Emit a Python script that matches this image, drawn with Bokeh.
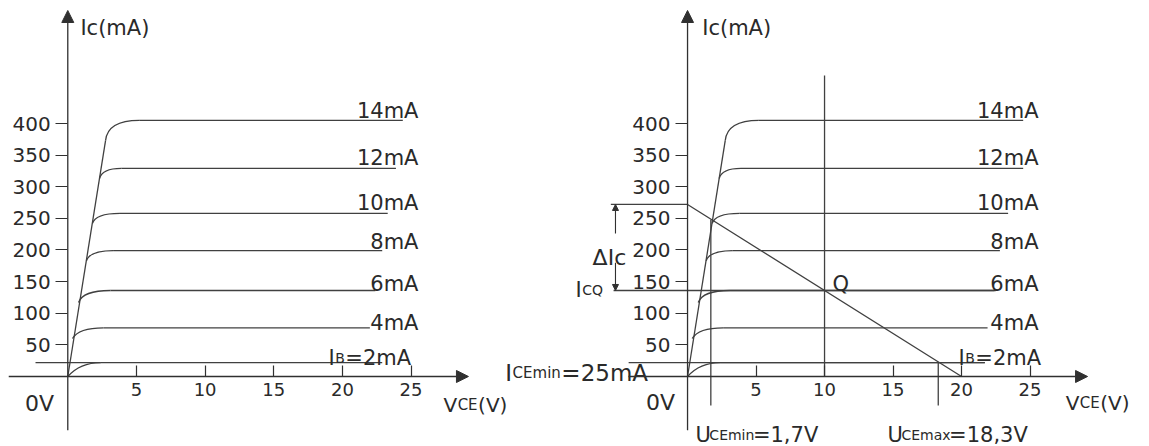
from bokeh.plotting import figure
from bokeh.models import Range1d, LinearAxis, FixedTicker, Arrow, NormalHead
from bokeh.embed import file_html
from bokeh.resources import INLINE
from bokeh.core.properties import value

# ---------------- data ----------------
ib_ma = [14, 12, 10, 8, 6, 4, 2]
curve_labels = ["14mA", "12mA", "10mA", "8mA", "6mA", "4mA"]
knee_v = [2.75, 2.31, 1.80, 1.36, 0.78, 0.34, 0.0]      # where curve leaves saturation line
knee_i = [373, 313, 242, 183, 117, 60, 0]
ctrl_v = [2.9, 2.5, 2.0, 1.6, 1.1, 0.8, 0.9]
flat_v = [5.2, 3.9, 3.8, 3.3, 3.1, 2.6, 2.4]            # start of plateau
flat_i = [405, 329, 258, 199, 136, 77, 22]              # plateau current (mA)
end_v_left = [24.4, 23.9, 23.3, 22.9, 22.4, 22.0, 22.9]
end_v_right = [24.5, 24.5, 23.4, 22.8, 22.4, 21.9, 21.7]
label_i = [419, 346, 275, 213, 147, 85]                 # label baselines (mA)

x_ticks = [5, 10, 15, 20, 25]
y_ticks = [50, 100, 150, 200, 250, 300, 350, 400]

# operating point / load line (right chart)
vcc = 20.0
ic_sat = 272.0
vce_q = 10.0
ic_q = 136.0
uce_min = 1.7
uce_max = 18.3
ice_min = 22.0

FONT = "DejaVu Sans"
LC = "#404040"
AX = "#303030"
TXT = "#2a2a2a"

p = figure(width=1149, height=446, x_range=Range1d(-4.90, 78.78), y_range=Range1d(-110.7, 594.5),
           x_axis_type=None, y_axis_type=None, toolbar_location=None, tools="",
           output_backend="svg", min_border=0, outline_line_color=None)
p.extra_x_ranges = {"r": Range1d(-50.15, 33.72)}
p.background_fill_color = "white"

# width table (em) for DejaVu Sans, used to chain text pieces
W = {" ": 0.318, "(": 0.39, ")": 0.39, ",": 0.318, "=": 0.838, "A": 0.684, "B": 0.686,
     "C": 0.698, "E": 0.632, "I": 0.295, "Q": 0.787, "U": 0.732, "V": 0.684, "a": 0.613,
     "c": 0.55, "i": 0.278, "m": 0.974, "n": 0.634, "x": 0.592, "\u0394": 0.684}


def tw(s, px):
    return sum(W.get(ch, 0.636) for ch in s) * px


def txt(x, y, s, px, rng="default", align="left"):
    p.text(x=[x], y=[y], text=[s], text_font=value(FONT), text_font_size=f"{px}px",
           text_color=TXT, text_baseline="alphabetic", text_align=align, x_range_name=rng)


def rich(x, y, pieces, rng="default", gap=0.5):
    off = 0.0
    for s, px in pieces:
        p.text(x=[x], y=[y], text=[s], x_offset=off, text_font=value(FONT),
               text_font_size=f"{px}px", text_color=TXT, text_baseline="alphabetic",
               text_align="left", x_range_name=rng)
        off += tw(s, px) + gap


def axes(rng, x_lo, x_hi):
    xa = LinearAxis(ticker=FixedTicker(ticks=x_ticks), fixed_location=0, x_range_name=rng,
                    axis_line_color=None, major_tick_in=11, major_tick_out=0,
                    minor_tick_line_color=None, major_tick_line_color=AX, major_tick_line_width=1.2,
                    major_label_standoff=7, major_label_text_font=FONT,
                    major_label_text_font_size="18px", major_label_text_color=TXT)
    p.add_layout(xa, "below")
    ya = LinearAxis(ticker=FixedTicker(ticks=y_ticks), fixed_location=0, x_range_name=rng,
                    axis_line_color=None, major_tick_in=0, major_tick_out=12,
                    minor_tick_line_color=None, major_tick_line_color=AX, major_tick_line_width=1.2,
                    major_label_standoff=5, major_label_text_font=FONT,
                    major_label_text_font_size="20px", major_label_text_color=TXT)
    p.add_layout(ya, "left")
    p.add_layout(Arrow(end=NormalHead(size=12, fill_color=AX, line_color=AX, line_width=1),
                       x_start=x_lo, y_start=0, x_end=x_hi, y_end=0,
                       line_color=AX, line_width=1.3, x_range_name=rng))
    p.add_layout(Arrow(end=NormalHead(size=12, fill_color=AX, line_color=AX, line_width=1),
                       x_start=0, y_start=-85, x_end=0, y_end=578.7,
                       line_color=AX, line_width=1.3, x_range_name=rng))


def curves(rng, end_v):
    # saturation line
    p.line(x=[0, knee_v[0]], y=[0, knee_i[0]], line_color=LC, line_width=1.3, x_range_name=rng)
    p.quadratic(x0=knee_v, y0=knee_i, x1=flat_v, y1=flat_i, cx=ctrl_v, cy=flat_i,
                line_color=LC, line_width=1.3, x_range_name=rng)
    p.segment(x0=flat_v, y0=flat_i, x1=end_v, y1=flat_i, line_color=LC, line_width=1.3,
              x_range_name=rng)


# ---------------- left chart ----------------
axes("default", -4.3, 29.18)
curves("default", end_v_left)
p.line(x=[-2.35, flat_v[-1]], y=[ice_min, ice_min], line_color=LC, line_width=1.3)
for s, yy in zip(curve_labels, label_i):
    txt(25.54, yy, s, 21, align="right")
rich(18.99, 28.5, [("I", 21), ("B", 14), ("=2mA", 21)])
txt(0.92, 551.8, "Ic(mA)", 21)
txt(-2.06, -42.7, "0V", 22, align="center")
rich(27.36, -44.3, [("V", 20), ("CE", 15), ("(V)", 20)])

# ---------------- right chart ----------------
R = "r"
axes(R, -4.31, 29.2)
curves(R, end_v_right)
# I_CEmin line
p.line(x=[-4.3, end_v_right[-1]], y=[ice_min, ice_min], line_color=LC, line_width=1.3, x_range_name=R)
# load line with its horizontal extension
p.line(x=[-5.6, 0, vcc], y=[ic_sat, ic_sat, 0], line_color=LC, line_width=1.3, x_range_name=R)
# I_CQ line
p.line(x=[-5.4, 22.5], y=[ic_q, ic_q], line_color=LC, line_width=1.3, x_range_name=R)
# verticals
p.line(x=[vce_q, vce_q], y=[476, 0], line_color=LC, line_width=1.3, x_range_name=R)
p.line(x=[uce_min, uce_min], y=[248, -46], line_color=LC, line_width=1.3, x_range_name=R)
p.line(x=[uce_max, uce_max], y=[ice_min, -46], line_color=LC, line_width=1.3, x_range_name=R)
# delta Ic arrows
p.add_layout(Arrow(end=NormalHead(size=6, fill_color=AX, line_color=AX, line_width=1),
                   x_start=-5.26, y_start=226, x_end=-5.26, y_end=ic_sat,
                   line_color=AX, line_width=1.1, x_range_name=R))
p.add_layout(Arrow(end=NormalHead(size=6, fill_color=AX, line_color=AX, line_width=1),
                   x_start=-5.26, y_start=180, x_end=-5.26, y_end=ic_q,
                   line_color=AX, line_width=1.1, x_range_name=R))

for s, yy in zip(curve_labels, label_i):
    txt(25.62, yy, s, 21, rng=R, align="right")
rich(19.78, 28.5, [("I", 21), ("B", 14), ("=2mA", 21)], rng=R)
txt(1.07, 551.8, "Ic(mA)", 21, rng=R)
txt(-1.97, -40.6, "0V", 22, rng=R, align="center")
rich(27.6, -42.7, [("V", 20), ("CE", 15), ("(V)", 20)], rng=R)
txt(10.58, 147, "Q", 21, rng=R)
txt(-6.93, 188, "\u0394Ic", 22, rng=R)
rich(-8.18, ic_q, [("I", 21), ("CQ", 14)], rng=R)
rich(-13.3, 6.3, [("I", 23), ("CEmin", 15), ("=25mA", 23)], rng=R)
rich(0.58, -93.3, [("U", 21), ("CEmin", 14), ("=1,7V", 21)], rng=R, gap=-1.5)
rich(14.6, -93.3, [("U", 21), ("CEmax", 14), ("=18,3V", 21)], rng=R, gap=-1.5)

open("out.html", "w").write(file_html(p, INLINE))
